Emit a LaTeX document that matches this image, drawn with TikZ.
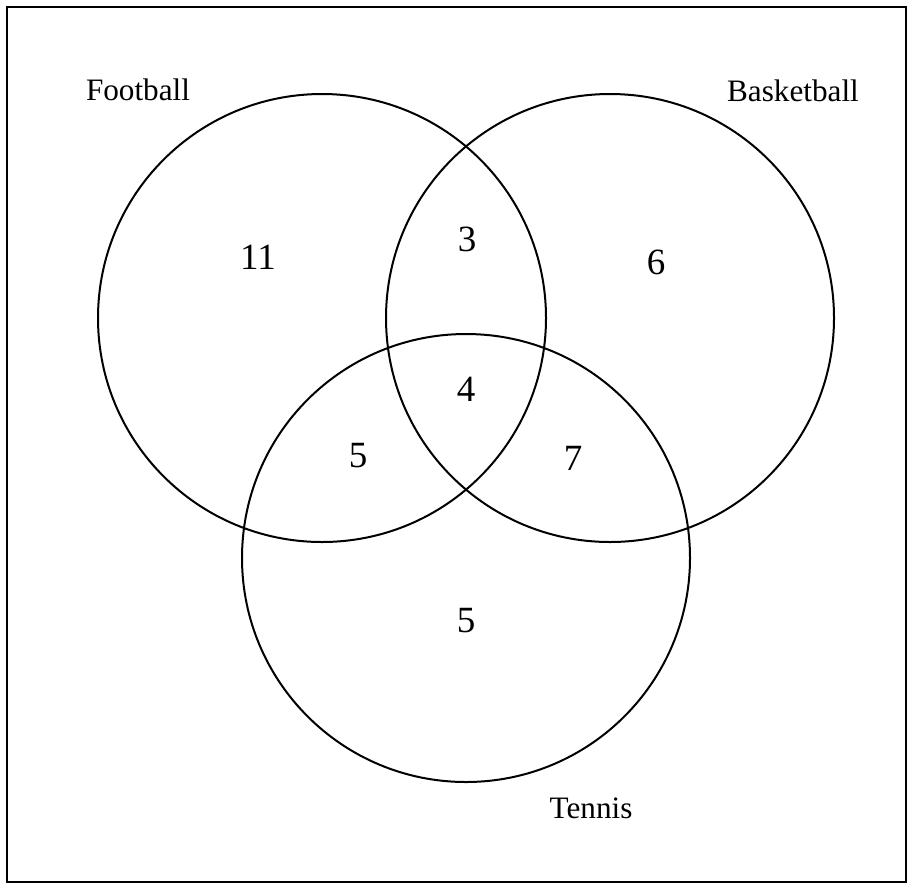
\documentclass[tikz,border=0pt]{standalone}
\usepackage{fontspec}
\setmainfont{Liberation Serif}

\begin{document}
\begin{tikzpicture}[x=0.5pt,y=-0.5pt,
		setcircle/.style={circle, draw=black, line width=1pt, inner sep=0pt, minimum size=224pt},
		setname/.style={inner sep=0pt, font=\fontsize{15.6}{18}\selectfont},
		count/.style={inner sep=0pt, font=\fontsize{18.5}{22}\selectfont}]
		\useasboundingbox (0,0) rectangle (913,889);
		\draw[line width=0.75pt] (7,7) rectangle (906,882);
		\foreach \x/\y/\alph in {
			322/318/football,
			610/318/basketball,
			466/558/tennis
		}{
			\node[setcircle] (\alph) at (\x,\y) {};
		}
		\foreach \x/\y/\alph/\name in {
			138/90/footballlabel/Football,
			793/91/basketballlabel/Basketball,
			591/808/tennislabel/Tennis
		}{
			\node[setname] (\alph) at (\x,\y) {\name};
		}
		\foreach \x/\y/\alph/\name in {
			258/257/fonly/11,
			467/239/fb/3,
			656/262/bonly/6,
			466/389/fbt/4,
			358/456/ft/5,
			573/458/bt/7,
			466/621/tonly/5
		}{
			\node[count] (\alph) at (\x,\y) {\name};
		}
	\end{tikzpicture}
\end{document}
